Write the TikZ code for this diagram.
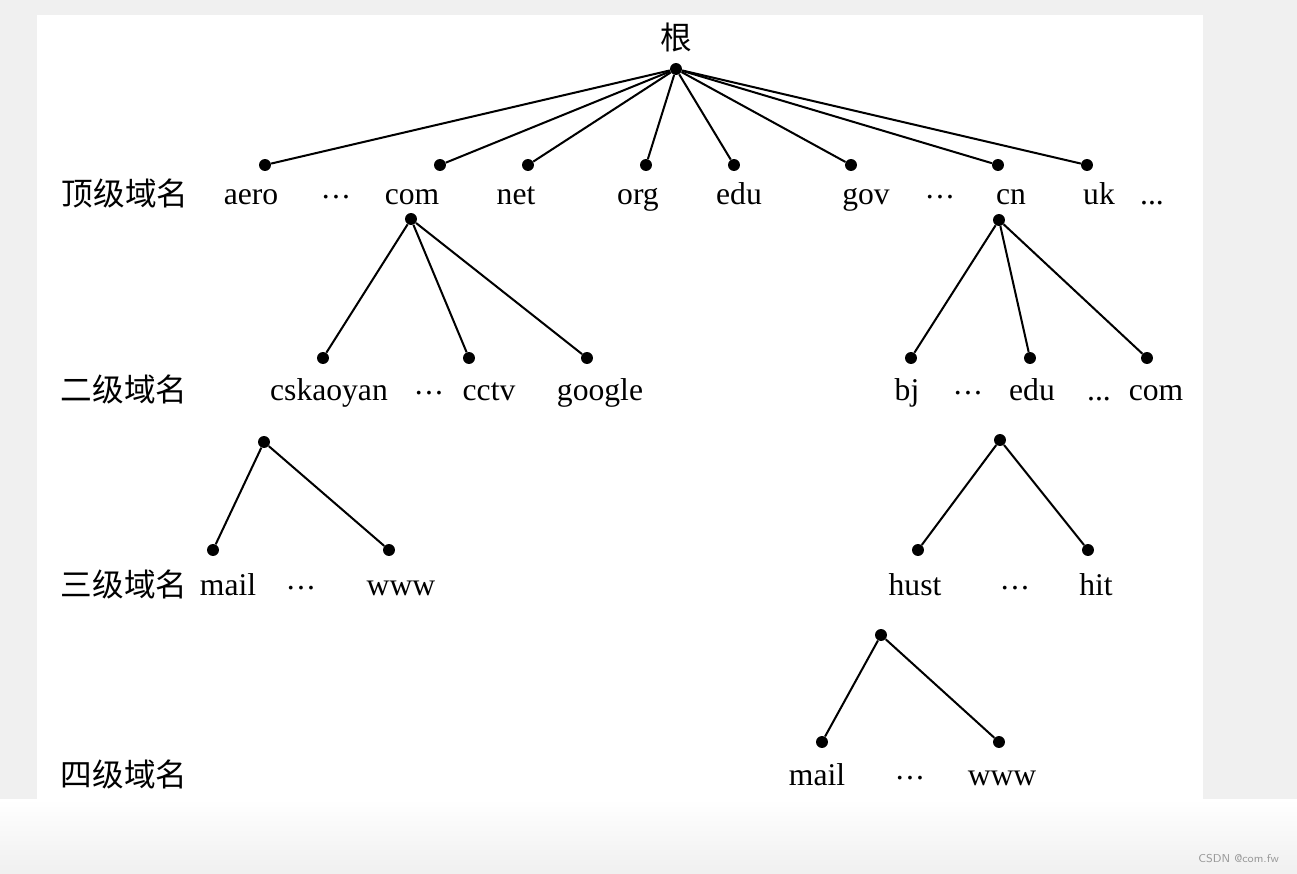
\documentclass[tikz,border=0pt]{standalone}
\usepackage{fontspec}
\setmainfont{Liberation Serif}
\newfontfamily\cjk{Noto Sans CJK SC}
\usepackage{tikz}
\usetikzlibrary{shapes,arrows}
\newcommand{\middots}{\raisebox{0.16em}{.\kern0.07em.\kern0.07em.}}

\begin{document}
\begin{tikzpicture}[x=0.02cm, y=-0.02cm]
		\tikzstyle {domain point} = [circle, fill=black, inner sep=0pt, minimum size=6.8pt]
		\tikzstyle {domain edge} = [line width=1.15pt]
		\tikzstyle {domain label} = [anchor=base, inner sep=0pt, font=\fontsize{18}{18}\selectfont]
		\tikzstyle {level label} = [anchor=base, inner sep=0pt, font=\cjk\fontsize{18}{18}\selectfont]

		% background
		\useasboundingbox (0,0) rectangle (1297,873);
		\fill[gray!12] (0,0) rectangle (1297,873);
		\fill[white] (37,15) rectangle (1203,800);
		\shade[top color=white, bottom color=gray!12] (0,799) rectangle (1297,873);
		\node[anchor=base east, text=gray!80, font=\sffamily\fontsize{6.5}{6.5}\selectfont] (mark) at (1285,862) {CSDN @com.fw};

		% level names
		\node[level label] (lv1) at (125,205) {顶级域名};
		\node[level label] (lv2) at (124,401) {二级域名};
		\node[level label] (lv3) at (124,596) {三级域名};
		\node[level label] (lv4) at (124,786) {四级域名};

		% root
		\node[level label] (rootname) at (676,49) {根};
		\node[domain point] (root) at (676,69) {};

		% top level
		\node[domain point] (aero) at (265,165) {};
		\node[domain point] (com) at (440,165) {};
		\node[domain point] (net) at (528,165) {};
		\node[domain point] (org) at (646,165) {};
		\node[domain point] (edu) at (734,165) {};
		\node[domain point] (gov) at (851,165) {};
		\node[domain point] (cn) at (998,165) {};
		\node[domain point] (uk) at (1087,165) {};
		\foreach \t in {aero, com, net, org, edu, gov, cn, uk}
			\draw[domain edge] (root) -- (\t);

		\node[domain label] (aeroname) at (251,204) {aero};
		\node[domain label] (dotsa) at (336,204) {\middots};
		\node[domain label] (comname) at (412,204) {com};
		\node[domain label] (netname) at (516,204) {net};
		\node[domain label] (orgname) at (638,204) {org};
		\node[domain label] (eduname) at (739,204) {edu};
		\node[domain label] (govname) at (866,204) {gov};
		\node[domain label] (dotsb) at (940,204) {\middots};
		\node[domain label] (cnname) at (1011,204) {cn};
		\node[domain label] (ukname) at (1099,204) {uk};
		\node[domain label] (dotsc) at (1152,204) {...};

		% second level under com
		\node[domain point] (comtop) at (411,219) {};
		\node[domain point] (cskaoyan) at (323,358) {};
		\node[domain point] (cctv) at (469,358) {};
		\node[domain point] (google) at (587,358) {};
		\foreach \t in {cskaoyan, cctv, google}
			\draw[domain edge] (comtop) -- (\t);
		\node[domain label] (cskaoyanname) at (329,400) {cskaoyan};
		\node[domain label] (dotsd) at (429,400) {\middots};
		\node[domain label] (cctvname) at (489,400) {cctv};
		\node[domain label] (googlename) at (600,400) {google};

		% second level under cn
		\node[domain point] (cntop) at (999,220) {};
		\node[domain point] (bj) at (911,358) {};
		\node[domain point] (cnedu) at (1030,358) {};
		\node[domain point] (cncom) at (1147,358) {};
		\foreach \t in {bj, cnedu, cncom}
			\draw[domain edge] (cntop) -- (\t);
		\node[domain label] (bjname) at (907,400) {bj};
		\node[domain label] (dotse) at (968,400) {\middots};
		\node[domain label] (cneduname) at (1032,400) {edu};
		\node[domain label] (dotsf) at (1099,400) {...};
		\node[domain label] (cncomname) at (1156,400) {com};

		% third level under cskaoyan
		\node[domain point] (cstop) at (264,442) {};
		\node[domain point] (csmail) at (213,550) {};
		\node[domain point] (cswww) at (389,550) {};
		\draw[domain edge] (cstop) -- (csmail);
		\draw[domain edge] (cstop) -- (cswww);
		\node[domain label] (csmailname) at (228,595) {mail};
		\node[domain label] (dotsg) at (301,595) {\middots};
		\node[domain label] (cswwwname) at (401,595) {www};

		% third level under edu
		\node[domain point] (edutop) at (1000,440) {};
		\node[domain point] (hust) at (918,550) {};
		\node[domain point] (hit) at (1088,550) {};
		\draw[domain edge] (edutop) -- (hust);
		\draw[domain edge] (edutop) -- (hit);
		\node[domain label] (hustname) at (915,595) {hust};
		\node[domain label] (dotsh) at (1015,595) {\middots};
		\node[domain label] (hitname) at (1096,595) {hit};

		% fourth level under hust
		\node[domain point] (husttop) at (881,635) {};
		\node[domain point] (hustmail) at (822,742) {};
		\node[domain point] (hustwww) at (999,742) {};
		\draw[domain edge] (husttop) -- (hustmail);
		\draw[domain edge] (husttop) -- (hustwww);
		\node[domain label] (hustmailname) at (817,785) {mail};
		\node[domain label] (dotsi) at (910,785) {\middots};
		\node[domain label] (hustwwwname) at (1002,785) {www};
	\end{tikzpicture}
\end{document}
